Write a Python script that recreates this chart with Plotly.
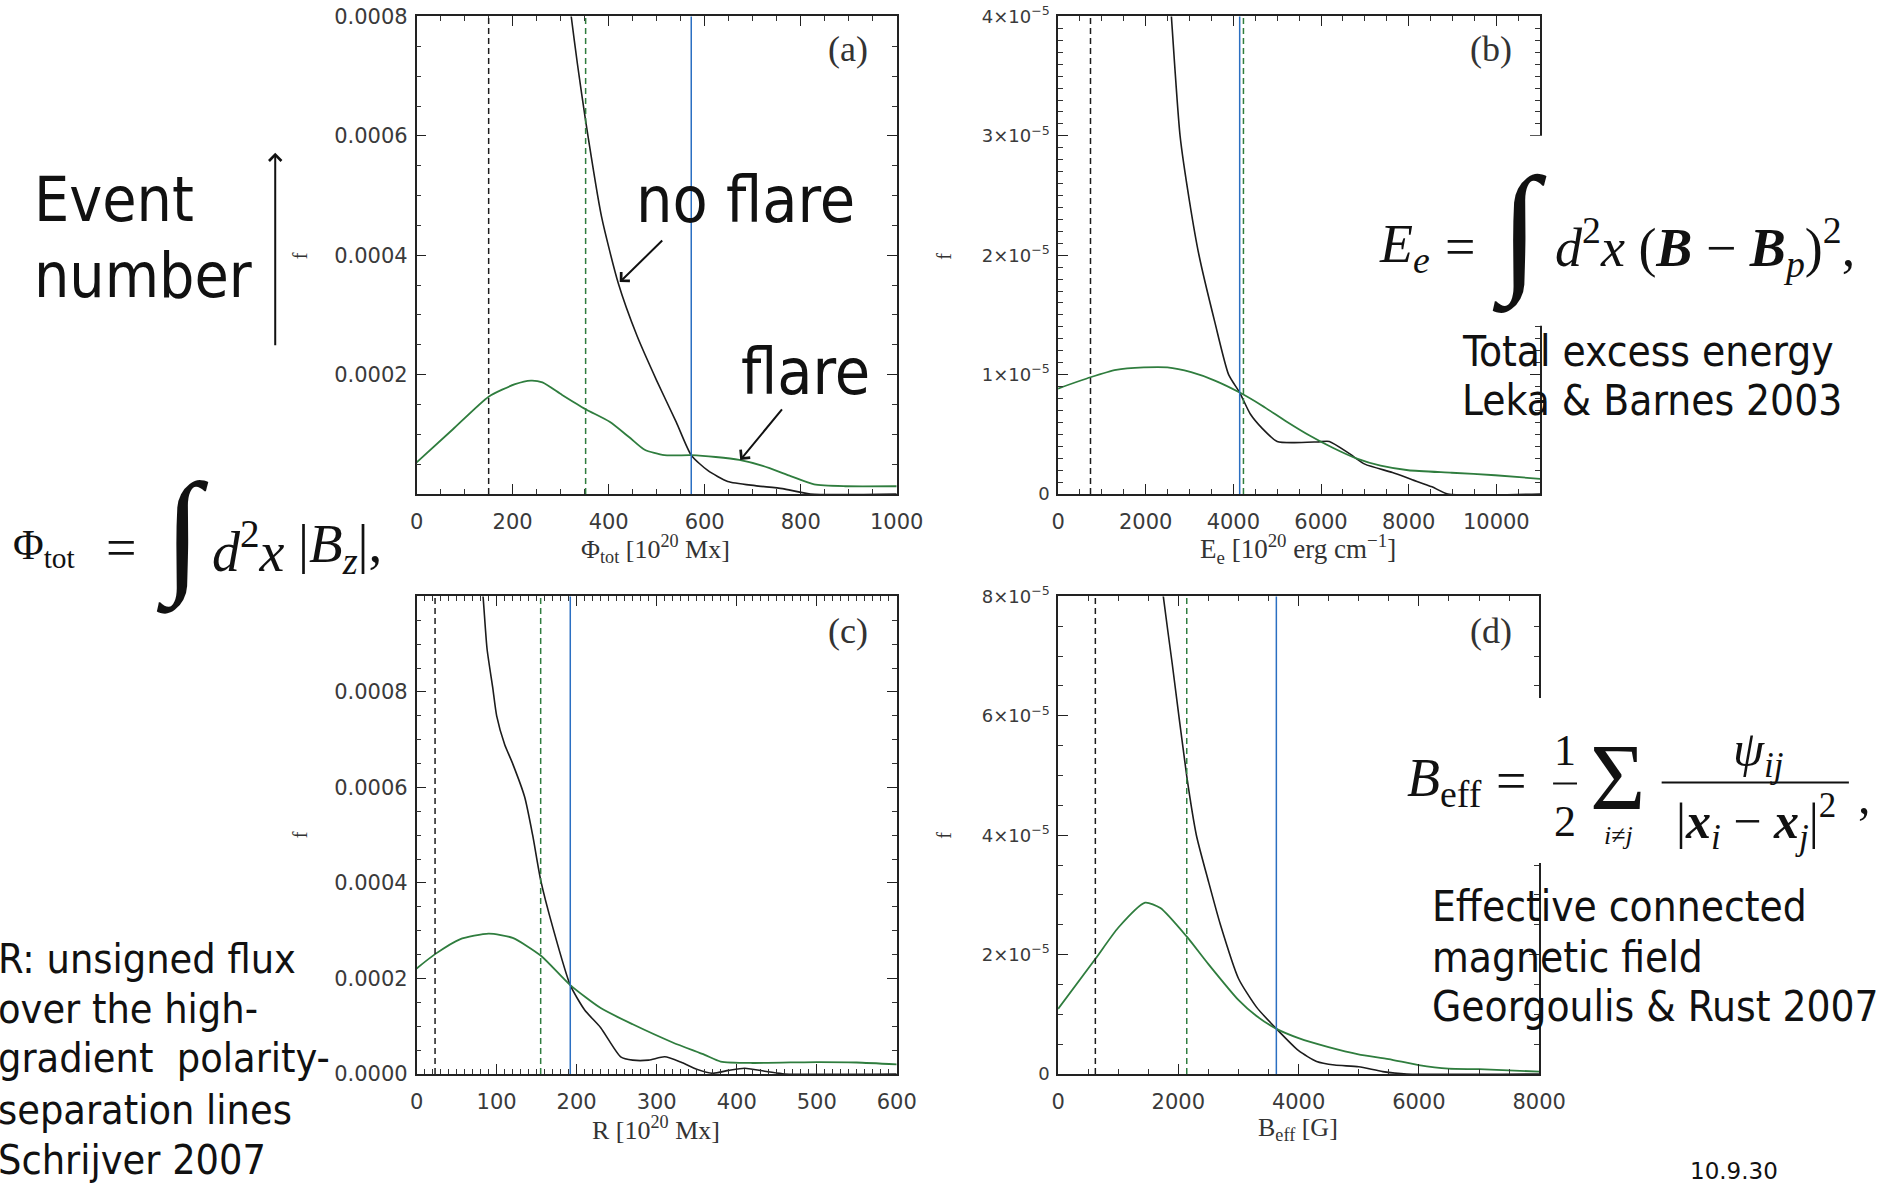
import plotly.graph_objects as go

W, H = 1894, 1185
# measured mapping of figure pixels to the photographed picture (scale + offset); positions below are
# given in picture pixels and converted back to figure pixels
SX, SY = 0.986, 0.984
OX, OY = 3.7, 9.5

# ---------------- data ----------------
# (a) total unsigned flux
a_x_flare = [0, 75, 150, 205, 238, 262, 303, 352, 402, 443, 475, 516, 572, 623, 672, 721, 779, 828, 893, 1000]
a_y_flare = [5.3e-5, 1.08e-4, 1.63e-4, 1.84e-4, 1.9e-4, 1.87e-4, 1.66e-4, 1.42e-4, 1.21e-4, 9.5e-5, 7.4e-5, 6.5e-5,
             6.5e-5, 6.2e-5, 5.7e-5, 4.7e-5, 3.0e-5, 1.6e-5, 1.3e-5, 1.3e-5]
a_x_noflare = [316, 322, 335, 352, 385, 420, 459, 500, 541, 572, 607, 648, 705, 762, 820, 1000]
a_y_noflare = [8.4e-4, 8.0e-4, 7.2e-4, 6.25e-4, 4.65e-4, 3.53e-4, 2.65e-4, 1.9e-4, 1.2e-4, 6.5e-5, 3.9e-5, 2.1e-5,
               1.4e-5, 9e-6, 0, 0]
a_thresholds = [150, 352, 572]

# (b) excess energy
b_x_flare = [0, 740, 1324, 1955, 2495, 3036, 3577, 4144, 4658, 5200, 5739, 6279, 6820, 7360, 7991, 8982, 9973, 11000]
b_y_flare = [8.83e-6, 9.78e-6, 1.04e-5, 1.06e-5, 1.06e-5, 1.02e-5, 9.5e-6, 8.5e-6, 7.4e-6, 6.1e-6, 4.9e-6, 3.85e-6,
             2.96e-6, 2.37e-6, 1.99e-6, 1.78e-6, 1.57e-6, 1.27e-6]
b_x_noflare = [2500, 2586, 2784, 3000, 3216, 3577, 3892, 4144, 4387, 4658, 5000, 5378, 5919, 6189, 6640, 7000, 7631,
               8081, 8532, 8892, 11000]
b_y_noflare = [4.5e-5, 4.0e-5, 3.0e-5, 2.45e-5, 2.0e-5, 1.44e-5, 1.0e-5, 8.5e-6, 6.7e-6, 5.5e-6, 4.4e-6, 4.3e-6,
               4.36e-6, 4.4e-6, 3.4e-6, 2.5e-6, 1.8e-6, 1.2e-6, 6e-7, 0, 0]
b_thresholds = [740, 4230, 4144]

# (c) R
c_x_flare = [0, 23, 54, 90, 120, 155, 192, 230, 270, 320, 360, 380, 420, 500, 550, 600]
c_y_flare = [2.21e-4, 2.51e-4, 2.82e-4, 2.94e-4, 2.85e-4, 2.48e-4, 1.86e-4, 1.38e-4, 1.04e-4, 6.6e-5, 4.0e-5, 2.6e-5,
             2.3e-5, 2.5e-5, 2.4e-5, 2.0e-5]
c_x_noflare = [80, 83, 88, 95, 100, 110, 120, 135, 145, 155, 170, 192, 210, 230, 255, 270, 290, 310, 330, 350, 370,
               390, 410, 440, 460, 600]
c_y_noflare = [1.05e-3, 1.0e-3, 8.9e-4, 8.1e-4, 7.5e-4, 6.9e-4, 6.5e-4, 5.8e-4, 5.0e-4, 4.06e-4, 3.08e-4, 1.86e-4,
               1.34e-4, 9.7e-5, 3.6e-5, 2.9e-5, 2.9e-5, 3.6e-5, 2.5e-5, 1.0e-5, 1.5e-6, 7.5e-6, 1.2e-5, 4.5e-6, 0, 0]
c_thresholds = [23, 155, 192]

# (d) B_eff
d_x_flare = [0, 622, 1000, 1447, 1702, 2141, 2500, 2998, 3300, 3633, 4000, 4498, 4995, 5499, 5997, 6494, 6998, 8000]
d_y_flare = [1.09e-5, 1.93e-5, 2.45e-5, 2.87e-5, 2.78e-5, 2.3e-5, 1.84e-5, 1.24e-5, 9.7e-6, 7.55e-6, 6.0e-6, 4.5e-6,
             3.3e-6, 2.5e-6, 1.5e-6, 9e-7, 8e-7, 4e-7]
d_x_noflare = [1700, 1750, 1900, 2141, 2300, 2500, 2700, 3000, 3300, 3633, 4000, 4300, 4600, 5000, 5400, 5800, 8000]
d_y_noflare = [8.5e-5, 8.0e-5, 6.86e-5, 4.98e-5, 4.0e-5, 3.23e-5, 2.5e-5, 1.6e-5, 1.12e-5, 7.55e-6, 3.9e-6, 2.1e-6,
               1.5e-6, 1.2e-6, 4e-7, 0, 0]
d_thresholds = [620, 2140, 3630]

# tick labels
a_yticks = [0.0002, 0.0004, 0.0006, 0.0008]
a_yticklabels = ["0.0002", "0.0004", "0.0006", "0.0008"]
b_yticks = [0, 1e-5, 2e-5, 3e-5, 4e-5]
b_yticklabels = ["0", "1×10<sup>−5</sup>", "2×10<sup>−5</sup>", "3×10<sup>−5</sup>", "4×10<sup>−5</sup>"]
c_yticks = [0, 0.0002, 0.0004, 0.0006, 0.0008]
c_yticklabels = ["0.0000", "0.0002", "0.0004", "0.0006", "0.0008"]
d_yticks = [0, 2e-5, 4e-5, 6e-5, 8e-5]
d_yticklabels = ["0", "2×10<sup>−5</sup>", "4×10<sup>−5</sup>", "6×10<sup>−5</sup>", "8×10<sup>−5</sup>"]


# ---------------- helpers ----------------
def PX(x):
    return ((x - OX) / SX) / W


def PY(y):
    return 1 - ((y - OY) / SY) / H


BLACK = "#1c1c1c"
GREEN = "#2f7d3e"
BLUE = "#2b6fc2"
SERIF = "Liberation Serif"
SLIDE = "DejaVu Sans Condensed, DejaVu Sans, sans-serif"

common = dict(showline=True, linecolor="#222", linewidth=1.5, mirror="allticks", ticks="inside",
              ticklen=10, tickwidth=1.3, tickcolor="#222", showgrid=False, zeroline=False)

panels = [
    ("", (415, 897), (13, 493), [0, 1000], 200, 50, [0, 0.0008], a_yticks, a_yticklabels, 0.00005, 21),
    ("2", (1059, 1543), (13, 493), [0, 11000], 2000, 500, [0, 4e-5], b_yticks, b_yticklabels, 1e-6, 18),
    ("3", (415, 897), (596, 1076), [0, 600], 100, 10, [0, 0.001], c_yticks, c_yticklabels, 0.00005, 21),
    ("4", (1059, 1542), (596, 1076), [0, 8000], 2000, 500, [0, 8e-5], d_yticks, d_yticklabels, 5e-6, 18),
]

fig = go.Figure()
layout = dict(width=W, height=H, margin=dict(l=0, r=0, t=0, b=0), paper_bgcolor="white",
              plot_bgcolor="white", showlegend=False)

for (s, xd, yd, xr, xdt, xmin, yr, yt, yl, ymin, yfs) in panels:
    layout["xaxis" + s] = dict(domain=[PX(xd[0]), PX(xd[1])], range=xr, anchor="y" + s,
                               tickmode="linear", tick0=0, dtick=xdt, tickformat="d", ticklabelstandoff=8,
                               tickfont=dict(family="DejaVu Sans", size=21, color="#3a3a3a"),
                               minor=dict(dtick=xmin, tick0=0, ticks="inside", ticklen=5, tickwidth=1,
                                          tickcolor="#333"), **common)
    layout["yaxis" + s] = dict(domain=[PY(yd[1]), PY(yd[0])], range=yr, anchor="x" + s,
                               tickmode="array", tickvals=yt, ticktext=yl, ticklabelstandoff=3,
                               tickfont=dict(family="DejaVu Sans", size=yfs, color="#3a3a3a"),
                               minor=dict(dtick=ymin, tick0=0, ticks="inside", ticklen=5, tickwidth=1,
                                          tickcolor="#333"), **common)

series = [
    ("", a_x_flare, a_y_flare, a_x_noflare, a_y_noflare, a_thresholds),
    ("2", b_x_flare, b_y_flare, b_x_noflare, b_y_noflare, b_thresholds),
    ("3", c_x_flare, c_y_flare, c_x_noflare, c_y_noflare, c_thresholds),
    ("4", d_x_flare, d_y_flare, d_x_noflare, d_y_noflare, d_thresholds),
]

shapes = []
for (s, xf, yf, xn, yn, th) in series:
    xa, ya = "x" + s, "y" + s
    fig.add_trace(go.Scatter(x=xn, y=yn, mode="lines", xaxis=xa, yaxis=ya,
                             line=dict(color=BLACK, width=1.6, shape="spline", smoothing=0.6)))
    fig.add_trace(go.Scatter(x=xf, y=yf, mode="lines", xaxis=xa, yaxis=ya,
                             line=dict(color=GREEN, width=1.8, shape="spline", smoothing=0.6)))
    styles = [(BLACK, "6px,4px"), (GREEN, "6px,4px"), (BLUE, "solid")]
    for val, (col, dash) in zip(th, styles):
        shapes.append(dict(type="line", xref=xa, yref=ya + " domain", x0=val, x1=val, y0=0, y1=1,
                           line=dict(color=col, width=1.5, dash=dash)))

# white boxes of pasted equations (they hide the right frame of b and d)
shapes.append(dict(type="rect", xref="paper", yref="paper", x0=PX(1371), x1=1, y0=PY(324), y1=PY(133),
                   fillcolor="white", line=dict(width=0), layer="above"))
shapes.append(dict(type="rect", xref="paper", yref="paper", x0=PX(1389), x1=1, y0=PY(864), y1=PY(698),
                   fillcolor="white", line=dict(width=0), layer="above"))
# fraction bars in B_eff
shapes.append(dict(type="line", xref="paper", yref="paper", x0=PX(1556), x1=PX(1580), y0=PY(784), y1=PY(784),
                   line=dict(color="#111", width=2), layer="above"))
shapes.append(dict(type="line", xref="paper", yref="paper", x0=PX(1665), x1=PX(1853), y0=PY(783), y1=PY(783),
                   line=dict(color="#111", width=2), layer="above"))

ann = []


def T(x, y, text, size, family=SLIDE, xanchor="left", yanchor="middle", color="#111", angle=0):
    ann.append(dict(x=PX(x), y=PY(y), xref="paper", yref="paper", text=text, showarrow=False,
                    xanchor=xanchor, yanchor=yanchor, align="left", textangle=angle,
                    font=dict(family=family, size=size, color=color)))


# panel letters
for lab, x, y in [("(a)", 848, 46), ("(b)", 1494, 46), ("(c)", 848, 631), ("(d)", 1494, 631)]:
    T(x, y, lab, 36, SERIF, xanchor="center", color="#333")
# y titles "f"
for x, y in [(298, 254), (945, 254), (298, 836), (945, 836)]:
    T(x, y, "f", 20, SERIF, xanchor="center", color="#333", angle=-90)
# x titles
T(655, 548, "Φ<sub>tot</sub> [10<sup>20</sup> Mx]", 26, SERIF, xanchor="center", color="#333")
T(1300, 548, "E<sub>e</sub> [10<sup>20</sup> erg cm<sup>−1</sup>]", 27, SERIF, xanchor="center", color="#333")
T(655, 1131, "R [10<sup>20</sup> Mx]", 26, SERIF, xanchor="center", color="#333")
T(1300, 1131, "B<sub>eff</sub> [G]", 26, SERIF, xanchor="center", color="#333")

# slide texts (one annotation per line)
T(29, 197, "Event", 62)
T(29, 273, "number", 62)
T(633, 197, "no flare", 64)
T(739, 370, "flare", 64)
T(1463, 350, "Total excess energy", 42)
T(1463, 399, "Leka &amp; Barnes 2003", 42)
T(1432, 908, "Effective connected", 42)
T(1432, 959, "magnetic field", 42)
T(1432, 1008, "Georgoulis &amp; Rust 2007", 42)
for yy, line in zip([960, 1011, 1060, 1112, 1162],
                    ["R: unsigned flux", "over the high-", "gradient  polarity-", "separation lines",
                     "Schrijver 2007"]):
    T(-7, yy, line, 41)
T(1738, 1174, "10.9.30", 23, "DejaVu Sans", xanchor="center")

# equations
T(8, 547, "Φ<sub>tot</sub>", 42, SERIF)
T(118, 547, "=", 54, SERIF, xanchor="center")
T(180, 534, "∫", 136, SERIF, xanchor="center")
T(208, 547, "<i>d</i><sup>2</sup><i>x</i>", 56, SERIF)
T(294, 547, "|<i>B<sub>z</sub></i>|,", 55, SERIF)

T(1379, 245, "<i>E<sub>e</sub></i>", 54, SERIF)
T(1463, 245, "=", 54, SERIF, xanchor="center")
T(1522, 229, "∫", 142, SERIF, xanchor="center")
T(1556, 245, "<i>d</i><sup>2</sup><i>x</i> (<b><i>B</i></b> − <b><i>B</i></b><sub><i>p</i></sub>)<sup>2</sup>,",
  54, SERIF)

T(1407, 782, "<i>B</i><sub>eff</sub>", 54, SERIF)
T(1514, 782, "=", 54, SERIF, xanchor="center")
T(1568, 751, "1", 44, SERIF, xanchor="center")
T(1568, 822, "2", 44, SERIF, xanchor="center")
T(1621, 778, "Σ", 95, SERIF, xanchor="center")
T(1622, 836, "<i>i</i>≠<i>j</i>", 26, SERIF, xanchor="center")
T(1762, 753, "<i>ψ<sub>ij</sub></i>", 50, SERIF, xanchor="center")
T(1760, 822, "|<b><i>x</i></b><sub><i>i</i></sub> − <b><i>x</i></b><sub><i>j</i></sub>|<sup>2</sup>", 50, SERIF,
  xanchor="center")
T(1869, 797, ",", 50, SERIF, xanchor="center")

# arrows
ann.append(dict(x=423, y=3.55e-4, xref="x", yref="y", ax=44, ay=-43, text="", showarrow=True,
                arrowhead=4, arrowsize=1.2, arrowwidth=2, arrowcolor="#111"))
ann.append(dict(x=674, y=5.7e-5, xref="x", yref="y", ax=43, ay=-52, text="", showarrow=True,
                arrowhead=4, arrowsize=1.2, arrowwidth=2, arrowcolor="#111"))
ann.append(dict(x=PX(273), y=PY(150), xref="paper", yref="paper", ax=0, ay=194, text="", showarrow=True,
                arrowhead=4, arrowsize=1.2, arrowwidth=2, arrowcolor="#111"))

layout["shapes"] = shapes
layout["annotations"] = ann
fig.update_layout(**layout)
fig.write_html("out.html")
